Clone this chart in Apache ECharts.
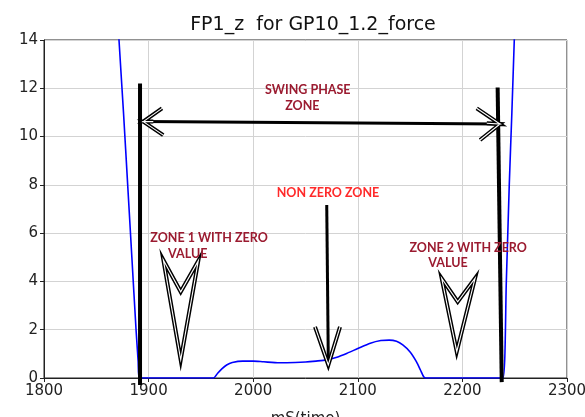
<!DOCTYPE html>
<html>
<head>
<meta charset="utf-8">
<script src="https://cdn.jsdelivr.net/npm/echarts@6/dist/echarts.min.js"></script>
<style>html,body{margin:0;padding:0;background:#fff}#c{width:585px;height:417px}</style>
</head>
<body>
<div id="c"></div>
<script>
// ---- data ----
const titleText = 'FP1_z  for GP10_1.2_force';
const xName = 'mS(time)';
const xTicks = [1800, 1900, 2000, 2100, 2200, 2300];
const yTicks = [0, 2, 4, 6, 8, 10, 12, 14];
const timeMs = [1868, 1871.7, 1876, 1880, 1884, 1888, 1890, 1891, 1900, 1930, 1955, 1962, 1966, 1970, 1974.6, 1980, 1990, 2000, 2010, 2025, 2040, 2050, 2060, 2070, 2080, 2090, 2100, 2112, 2122, 2130, 2137, 2143, 2150, 2156, 2160, 2163, 2165, 2200, 2232, 2238.8, 2242, 2244.8, 2247.3, 2249.6, 2252];
const forceZ = [17, 14, 11, 8, 5, 2, 0.7, 0, 0, 0, 0, 0, 0.2, 0.38, 0.54, 0.64, 0.70, 0.70, 0.67, 0.63, 0.64, 0.66, 0.70, 0.75, 0.86, 1.03, 1.22, 1.44, 1.55, 1.57, 1.52, 1.37, 1.08, 0.68, 0.32, 0.05, 0, 0, 0, 0, 4, 8, 11, 14, 17];

// annotation geometry (data coordinates)
const boundaryLines = [
  [[1891.8, 12.2], [1891.8, -0.29]],
  [[2233.7, 12.03], [2237.6, -0.17]]
];
const swingArrow = [[1894.9, 10.62], [2236, 10.52]];
const swingHeadLeft = [[1912.8, 11.17], [1894.9, 10.62], [1904.5, 10.62], [1894.9, 10.62], [1914, 10.06]];
const swingHeadRight = [[2213.7, 11.17], [2236, 10.52], [2223.3, 10.55], [2236, 10.52], [2216.9, 9.86]];
const zone1Chevron = [[1914.1, 4.89], [1930.7, 3.57], [1947.5, 4.85], [1930.7, 0.75]];
const zone2Chevron = [[2180.2, 4.13], [2195.5, 3.16], [2212.1, 4.13], [2194.6, 1.09]];
const nonZeroShaft = [[2070.3, 7.17], [2071.8, 0.75]];
const nonZeroHead = [[2059.1, 2.12], [2071.8, 0.54], [2083, 2.12]];
const labels = [
  {text: 'SWING PHASE', pos: [2052.2, 11.93], color: '#9b1b30'},
  {text: 'ZONE', pos: [2047, 11.27], color: '#9b1b30'},
  {text: 'NON ZERO ZONE', pos: [2071.5, 7.65], color: '#ff2a2a'},
  {text: 'ZONE 1 WITH ZERO', pos: [1957.8, 5.79], color: '#9b1b30'},
  {text: 'VALUE', pos: [1937.4, 5.14], color: '#9b1b30'},
  {text: 'ZONE 2 WITH ZERO', pos: [2205.5, 5.37], color: '#9b1b30'},
  {text: 'VALUE', pos: [2186.2, 4.75], color: '#9b1b30'}
];

const chart = echarts.init(document.getElementById('c'), null, {renderer: 'canvas'});
const font = 'DejaVu Sans';
chart.setOption({
  animation: false,
  backgroundColor: '#fff',
  title: {
    text: titleText, left: 308, top: 11, textAlign: 'center',
    textStyle: {fontFamily: font, fontSize: 19, fontWeight: 'normal', color: '#111'}
  },
  grid: {left: 44, right: 18, top: 40, bottom: 39, containLabel: false, outerBoundsMode: 'none', show: true, borderColor: '#222', borderWidth: 1, backgroundColor: 'transparent'},
  xAxis: {
    type: 'value', min: xTicks[0], max: xTicks[xTicks.length - 1], interval: 100,
    name: xName, nameLocation: 'middle', nameGap: 41,
    nameTextStyle: {fontFamily: font, fontSize: 15, color: '#222', verticalAlign: 'middle'},
    axisLine: {show: true, onZero: false, lineStyle: {color: '#222', width: 1}},
    axisTick: {show: true, length: 4, lineStyle: {color: '#222'}},
    axisLabel: {fontFamily: font, fontSize: 15, color: '#222', margin: 6, formatter: v => String(v)},
    splitLine: {show: true, lineStyle: {color: '#d3d3d3', width: 1}}
  },
  yAxis: {
    type: 'value', min: yTicks[0], max: yTicks[yTicks.length - 1], interval: 2,
    axisLine: {show: true, lineStyle: {color: '#222', width: 1}},
    axisTick: {show: true, length: 4, lineStyle: {color: '#222'}},
    axisLabel: {fontFamily: font, fontSize: 15, color: '#222', margin: 6, formatter: v => String(v)},
    splitLine: {show: true, lineStyle: {color: '#d3d3d3', width: 1}}
  },
  series: [{
    type: 'line', data: timeMs.map((t, i) => [t, forceZ[i]]),
    showSymbol: false, smooth: 0.25, clip: true,
    lineStyle: {color: '#0000ff', width: 1.6}
  }]
});

function px(p) { return chart.convertToPixel({gridIndex: 0}, p); }
const black = '#000';
const g = [];
boundaryLines.forEach(l => {
  const a = px(l[0]), b = px(l[1]);
  g.push({type: 'line', shape: {x1: a[0], y1: a[1], x2: b[0], y2: b[1]}, style: {stroke: black, lineWidth: 4}, z: 100});
});
{
  const a = px(swingArrow[0]), b = px(swingArrow[1]);
  g.push({type: 'line', shape: {x1: a[0], y1: a[1], x2: b[0], y2: b[1]}, style: {stroke: black, lineWidth: 3}, z: 100});
}
function hollow(points, closed) {
  const pts = points.map(px);
  const type = closed ? 'polygon' : 'polyline';
  g.push({type, shape: {points: pts}, style: {stroke: black, fill: closed ? '#fff' : null, lineWidth: 4, lineJoin: 'miter'}, z: 101});
  g.push({type, shape: {points: pts}, style: {stroke: '#fff', fill: null, lineWidth: 1.1, lineJoin: 'miter'}, z: 102});
}
hollow(swingHeadLeft, false);
hollow(swingHeadRight, false);
hollow(zone1Chevron, true);
hollow(zone2Chevron, true);
{
  const a = px(nonZeroShaft[0]), b = px(nonZeroShaft[1]);
  g.push({type: 'line', shape: {x1: a[0], y1: a[1], x2: b[0], y2: b[1]}, style: {stroke: black, lineWidth: 3}, z: 100});
}
hollow(nonZeroHead, false);
labels.forEach(l => {
  const p = px(l.pos);
  g.push({type: 'text', x: p[0], y: p[1], z: 110, style: {text: l.text, fill: l.color, font: 'bold 12.5px Lato', align: 'center', verticalAlign: 'middle'}});
});
chart.setOption({graphic: g});
</script>
</body>
</html>
